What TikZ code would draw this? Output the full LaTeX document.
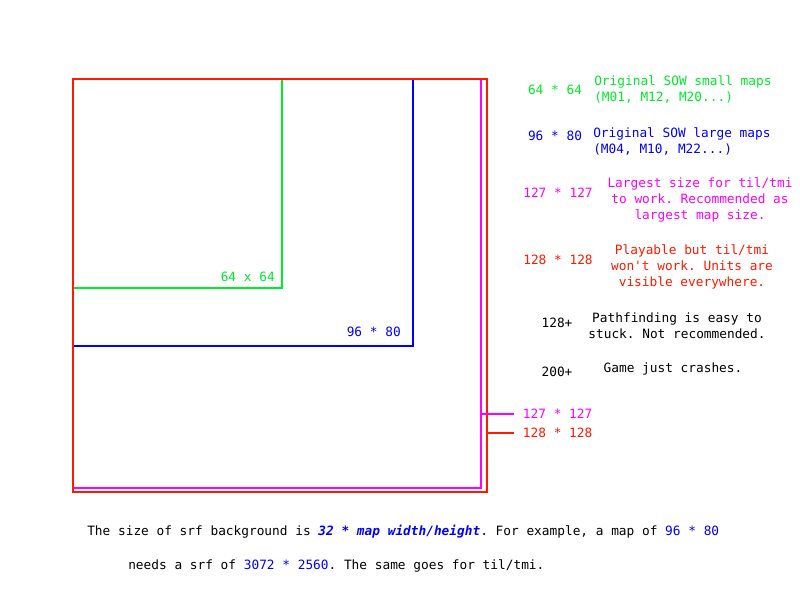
\documentclass[tikz,border=0pt]{standalone}
\usepackage{fontspec}
\setmonofont{DejaVu Sans Mono}
\usetikzlibrary{positioning}
\definecolor{smallcolor}{RGB}{0,235,40}
\definecolor{largecolor}{RGB}{0,0,255}
\definecolor{limitcolor}{RGB}{255,0,255}
\definecolor{maxcolor}{RGB}{255,25,0}

\begin{document}
\begin{tikzpicture}[x=0.75pt, y=-0.75pt,
    every node/.style={font=\ttfamily\fontsize{9.6}{12}\selectfont, inner sep=0pt},
    mapbox/.style={line width=1.5pt},
    sizelabel/.style={anchor=center},
    note/.style={align=center},
    leftnote/.style={align=left, anchor=west}]
    \useasboundingbox (0,0) rectangle (800,600);

    % Map outlines - smallest first, the red one on top
    \draw[mapbox, smallcolor] (73,79) rectangle (282,288);
    \draw[mapbox, largecolor] (73,79) rectangle (413,346);
    \draw[mapbox, limitcolor] (73,79) rectangle (481,488);
    \draw[mapbox, maxcolor] (73,79) rectangle (487,492);

    % Labels inside the outlines
    \node (in64) at (275,277) [anchor=east, text=smallcolor] {64 x 64};
    \node (in96) at (401,332) [anchor=east, text=largecolor] {96 * 80};

    % Callouts on the right edges
    \coordinate (edge127) at (481,414);
    \coordinate (edge128) at (487,433);
    \coordinate (tip127) at (514,414);
    \coordinate (tip128) at (514,433);
    \node (call127) [right=6.5pt of tip127, text=limitcolor] {127 * 127};
    \node (call128) [right=6.5pt of tip128, text=maxcolor] {128 * 128};
    \draw[mapbox, limitcolor] (edge127) -- (tip127);
    \draw[mapbox, maxcolor] (edge128) -- (tip128);

    % Legend - small maps
    \node (size64) at (555,90) [sizelabel, text=smallcolor] {64 * 64};
    \node (note64) at (594,89) [leftnote, text=smallcolor] {Original SOW small maps\\(M01, M12, M20...)};

    % Legend - large maps
    \node (size96) at (555,136) [sizelabel, text=largecolor] {96 * 80};
    \node (note96) at (593,141) [leftnote, text=largecolor] {Original SOW large maps\\(M04, M10, M22...)};

    % Legend - 127
    \node (size127) at (558,193) [sizelabel, text=limitcolor] {127 * 127};
    \node (note127) at (700,200) [note, text=limitcolor] {Largest size for til/tmi\\to work. Recommended as\\largest map size.};

    % Legend - 128
    \node (size128) at (558,260) [sizelabel, text=maxcolor] {128 * 128};
    \node (note128) at (692,267) [note, text=maxcolor] {Playable but til/tmi\\won't work. Units are\\visible everywhere.};

    % Legend - above 128
    \node (sizeover) at (557,323) [sizelabel] {128+};
    \node (noteover) at (677,326) [note] {Pathfinding is easy to\\stuck. Not recommended.};

    % Legend - above 200
    \node (sizecrash) at (557,372) [sizelabel] {200+};
    \node (notecrash) at (673,369) [note] {Game just crashes.};

    % Footnote
    \node (foot1) at (87,532) [anchor=west] {The size of srf background is {\color{largecolor}\bfseries\itshape 32 * map width/height}. For example, a map of {\color{largecolor}96 * 80}};
    \node (foot2) at (128,566) [anchor=west] {needs a srf of {\color{largecolor}3072 * 2560}. The same goes for til/tmi.};
\end{tikzpicture}
\end{document}
